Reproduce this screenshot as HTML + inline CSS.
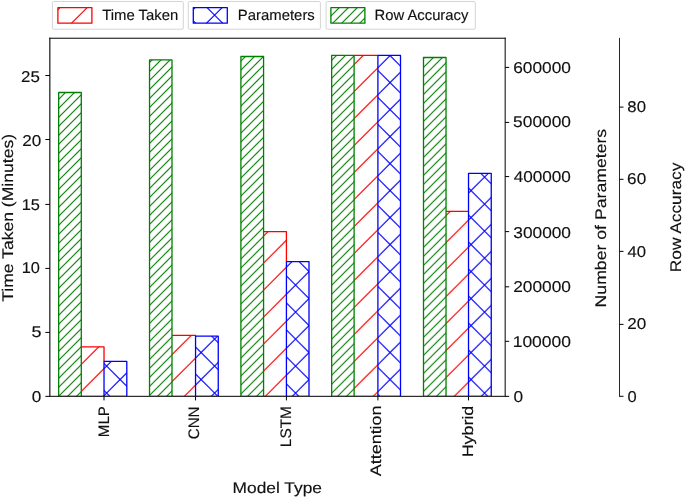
<!DOCTYPE html>
<html><head><meta charset="utf-8"><style>
html,body{margin:0;padding:0;background:#fff;}
svg{display:block;will-change:transform;}
text{font-family:"Liberation Sans",sans-serif;fill:#111;text-rendering:geometricPrecision;stroke:#111;stroke-width:0.15px;}
</style></head><body>
<svg width="685" height="498" viewBox="0 0 685 498">
<defs>
<pattern id="hr" patternUnits="userSpaceOnUse" x="0" y="0" width="26.994" height="26.994">
 <path d="M-2 -11.294 L-11.294 -2 M-2 15.7 L15.7 -2 M-2 42.694 L42.694 -2 M-2 69.688 L69.688 -2 " stroke="#ff0000" stroke-width="1.15" fill="none"/>
</pattern>
<pattern id="hg" patternUnits="userSpaceOnUse" x="0" y="0" width="8.998" height="8.998">
 <path d="M-2 -1.998 L-1.998 -2 M-2 7 L7 -2 M-2 15.998 L15.998 -2 M-2 24.996 L24.996 -2 " stroke="#008000" stroke-width="1.15" fill="none"/>
</pattern>
<pattern id="hb" patternUnits="userSpaceOnUse" x="0" y="0" width="26.994" height="26.994">
 <path d="M-2 -11.294 L-11.294 -2 M-2 15.7 L15.7 -2 M-2 42.694 L42.694 -2 M-2 69.688 L69.688 -2 M-18.494 -2 L12.5 28.994 M8.5 -2 L39.494 28.994 M35.494 -2 L66.488 28.994 " stroke="#0000ff" stroke-width="1.15" fill="none"/>
</pattern>
</defs>

<rect x="81.3" y="346.8" width="22.72" height="49.5" fill="url(#hr)"/>
<path d="M81.3 346.8 L104.02 346.8 L104.02 361.4 M81.3 396.3 L104.02 396.3" fill="none" stroke="#ff0000" stroke-width="1.3" stroke-linejoin="round"/>
<rect x="172" y="335.4" width="23.55" height="60.9" fill="url(#hr)"/>
<path d="M172 335.4 L195.55 335.4 L195.55 336.2 M172 396.3 L195.55 396.3" fill="none" stroke="#ff0000" stroke-width="1.3" stroke-linejoin="round"/>
<rect x="263.57" y="231.6" width="22.85" height="164.7" fill="url(#hr)"/>
<path d="M263.57 231.6 L286.42 231.6 L286.42 261.6 M263.57 396.3 L286.42 396.3" fill="none" stroke="#ff0000" stroke-width="1.3" stroke-linejoin="round"/>
<rect x="354.1" y="55.4" width="23.8" height="340.9" fill="url(#hr)"/>
<path d="M354.1 55.4 L377.9 55.4 L377.9 55.4 M354.1 396.3 L377.9 396.3" fill="none" stroke="#ff0000" stroke-width="1.3" stroke-linejoin="round"/>
<rect x="446.04" y="211.4" width="22.48" height="184.9" fill="url(#hr)"/>
<path d="M446.04 211.4 L468.52 211.4 L468.52 211.4 M446.04 396.3 L468.52 396.3" fill="none" stroke="#ff0000" stroke-width="1.3" stroke-linejoin="round"/>
<rect x="104.02" y="361.4" width="22.78" height="34.9" fill="url(#hb)" stroke="#0000ff" stroke-width="1.3" stroke-linejoin="round"/>
<rect x="195.55" y="336.2" width="22.7" height="60.1" fill="url(#hb)" stroke="#0000ff" stroke-width="1.3" stroke-linejoin="round"/>
<rect x="286.42" y="261.6" width="22.58" height="134.7" fill="url(#hb)" stroke="#0000ff" stroke-width="1.3" stroke-linejoin="round"/>
<rect x="377.9" y="55.4" width="22.6" height="340.9" fill="url(#hb)" stroke="#0000ff" stroke-width="1.3" stroke-linejoin="round"/>
<rect x="468.52" y="173.3" width="22.73" height="223" fill="url(#hb)" stroke="#0000ff" stroke-width="1.3" stroke-linejoin="round"/>
<rect x="58.67" y="92.5" width="22.63" height="303.8" fill="url(#hg)" stroke="#008000" stroke-width="1.3" stroke-linejoin="round"/>
<rect x="149.53" y="59.9" width="22.47" height="336.4" fill="url(#hg)" stroke="#008000" stroke-width="1.3" stroke-linejoin="round"/>
<rect x="240.9" y="56.5" width="22.67" height="339.8" fill="url(#hg)" stroke="#008000" stroke-width="1.3" stroke-linejoin="round"/>
<rect x="331.67" y="55.4" width="22.43" height="340.9" fill="url(#hg)" stroke="#008000" stroke-width="1.3" stroke-linejoin="round"/>
<rect x="423.5" y="57.5" width="22.54" height="338.8" fill="url(#hg)" stroke="#008000" stroke-width="1.3" stroke-linejoin="round"/>


<line x1="49.85" y1="37.7" x2="49.85" y2="396.8" stroke="#000" stroke-width="1.1"/>
<line x1="49.3" y1="38.23" x2="505.67" y2="38.23" stroke="#000" stroke-width="1.0"/>
<line x1="505.17" y1="37.73" x2="505.17" y2="396.8" stroke="#000" stroke-width="1.0"/>
<line x1="49.3" y1="396.5" x2="505.67" y2="396.5" stroke="#2e2e2e" stroke-width="1.0"/>
<line x1="49.3" y1="395.5" x2="505.67" y2="395.5" stroke="#000" stroke-opacity="0.18" stroke-width="1.0"/>

<line x1="45.35" y1="396.35" x2="49.9" y2="396.35" stroke="#000" stroke-width="1.0"/>
<line x1="45.35" y1="332.42" x2="49.9" y2="332.42" stroke="#000" stroke-width="1.0"/>
<line x1="45.35" y1="268.42" x2="49.9" y2="268.42" stroke="#000" stroke-width="1.0"/>
<line x1="45.35" y1="204.42" x2="49.9" y2="204.42" stroke="#000" stroke-width="1.0"/>
<line x1="45.35" y1="139.52" x2="49.9" y2="139.52" stroke="#000" stroke-width="1.0"/>
<line x1="45.35" y1="75.52" x2="49.9" y2="75.52" stroke="#000" stroke-width="1.0"/>
<line x1="505.1" y1="396.35" x2="509.2" y2="396.35" stroke="#000" stroke-width="1.0"/>
<line x1="505.1" y1="341.32" x2="509.2" y2="341.32" stroke="#000" stroke-width="1.0"/>
<line x1="505.1" y1="286.82" x2="509.2" y2="286.82" stroke="#000" stroke-width="1.0"/>
<line x1="505.1" y1="231.62" x2="509.2" y2="231.62" stroke="#000" stroke-width="1.0"/>
<line x1="505.1" y1="176.58" x2="509.2" y2="176.58" stroke="#000" stroke-width="1.0"/>
<line x1="505.1" y1="122.42" x2="509.2" y2="122.42" stroke="#000" stroke-width="1.0"/>
<line x1="505.1" y1="67.42" x2="509.2" y2="67.42" stroke="#000" stroke-width="1.0"/>
<line x1="619.5" y1="37.9" x2="619.5" y2="396.75" stroke="#000" stroke-width="0.85"/>
<line x1="619.5" y1="396.3" x2="623.5" y2="396.3" stroke="#000" stroke-width="1.0"/>
<line x1="619.5" y1="324.38" x2="623.5" y2="324.38" stroke="#000" stroke-width="1.0"/>
<line x1="619.5" y1="251.38" x2="623.5" y2="251.38" stroke="#000" stroke-width="1.0"/>
<line x1="619.5" y1="179.32" x2="623.5" y2="179.32" stroke="#000" stroke-width="1.0"/>
<line x1="619.5" y1="107.12" x2="623.5" y2="107.12" stroke="#000" stroke-width="1.0"/>
<line x1="104.02" y1="396.3" x2="104.02" y2="400.4" stroke="#000" stroke-width="1.0"/>
<line x1="195.55" y1="396.3" x2="195.55" y2="400.4" stroke="#000" stroke-width="1.0"/>
<line x1="286.42" y1="396.3" x2="286.42" y2="400.4" stroke="#000" stroke-width="1.0"/>
<line x1="377.9" y1="396.3" x2="377.9" y2="400.4" stroke="#000" stroke-width="1.0"/>
<line x1="468.52" y1="396.3" x2="468.52" y2="400.4" stroke="#000" stroke-width="1.0"/>
<rect x="52.35" y="1.5" width="130.95" height="27.7" rx="1.2" fill="#fff" stroke="#d4d4d4" stroke-width="1.0"/>
<rect x="57.9" y="7.55" width="34" height="15.6" fill="url(#hr)" stroke="#ff0000" stroke-width="1.3" stroke-linejoin="round"/>
<rect x="188.3" y="1.5" width="132.1" height="27.7" rx="1.2" fill="#fff" stroke="#d4d4d4" stroke-width="1.0"/>
<rect x="193.3" y="7.55" width="34" height="15.6" fill="url(#hb)" stroke="#0000ff" stroke-width="1.3" stroke-linejoin="round"/>
<rect x="326.1" y="1.5" width="149.2" height="27.7" rx="1.2" fill="#fff" stroke="#d4d4d4" stroke-width="1.0"/>
<rect x="330.9" y="7.55" width="34" height="15.6" fill="url(#hg)" stroke="#008000" stroke-width="1.3" stroke-linejoin="round"/>

<text id="t0" x="102.218" y="19.6" font-size="14.8" textLength="76.047" lengthAdjust="spacingAndGlyphs">Time Taken</text>
<text id="t1" x="237.843" y="19.6" font-size="14.8" textLength="76.981" lengthAdjust="spacingAndGlyphs">Parameters</text>
<text id="t2" x="374.507" y="19.6" font-size="14.8" textLength="93.854" lengthAdjust="spacingAndGlyphs">Row Accuracy</text>
<text id="t3" x="232.634" y="492.7" font-size="15.4" textLength="89.348" lengthAdjust="spacingAndGlyphs">Model Type</text>
<text id="t4" x="31.865" y="402.038" font-size="15.6" textLength="9.565" lengthAdjust="spacingAndGlyphs">0</text>
<text id="t5" x="31.396" y="337.434" font-size="15.6" textLength="10.04" lengthAdjust="spacingAndGlyphs">5</text>
<text id="t6" x="21.734" y="272.794" font-size="15.6" textLength="18.196" lengthAdjust="spacingAndGlyphs">10</text>
<text id="t7" x="21.731" y="209.58" font-size="15.6" textLength="18.235" lengthAdjust="spacingAndGlyphs">15</text>
<text id="t8" x="22.225" y="145.675" font-size="15.6" textLength="18.983" lengthAdjust="spacingAndGlyphs">20</text>
<text id="t9" x="21.098" y="81.708" font-size="15.6" textLength="18.815" lengthAdjust="spacingAndGlyphs">25</text>
<text id="t10" x="513.449" y="401.922" font-size="15.6" textLength="9.61" lengthAdjust="spacingAndGlyphs">0</text>
<text id="t11" x="512.703" y="347.018" font-size="15.6" textLength="58.319" lengthAdjust="spacingAndGlyphs">100000</text>
<text id="t12" x="513.272" y="292.129" font-size="15.6" textLength="57.668" lengthAdjust="spacingAndGlyphs">200000</text>
<text id="t13" x="513.317" y="237.612" font-size="15.6" textLength="57.68" lengthAdjust="spacingAndGlyphs">300000</text>
<text id="t14" x="513.643" y="181.916" font-size="15.6" textLength="57.292" lengthAdjust="spacingAndGlyphs">400000</text>
<text id="t15" x="513.114" y="127.41" font-size="15.6" textLength="57.814" lengthAdjust="spacingAndGlyphs">500000</text>
<text id="t16" x="513.209" y="72.889" font-size="15.6" textLength="57.664" lengthAdjust="spacingAndGlyphs">600000</text>
<text id="t17" x="627.516" y="401.948" font-size="15.6" textLength="9.182" lengthAdjust="spacingAndGlyphs">0</text>
<text id="t18" x="627.225" y="329.225" font-size="15.6" textLength="18.983" lengthAdjust="spacingAndGlyphs">20</text>
<text id="t19" x="627.525" y="256.803" font-size="15.6" textLength="18.574" lengthAdjust="spacingAndGlyphs">40</text>
<text id="t20" x="627.129" y="184.167" font-size="15.6" textLength="19.072" lengthAdjust="spacingAndGlyphs">60</text>
<text id="t21" x="627.34" y="111.985" font-size="15.6" textLength="18.624" lengthAdjust="spacingAndGlyphs">80</text>
<text id="t22" transform="translate(108.5,437.153) rotate(-90)" font-size="15.2" textLength="31.078" lengthAdjust="spacingAndGlyphs">MLP</text>
<text id="t23" transform="translate(199.1,439.235) rotate(-90)" font-size="15.2" textLength="32.713" lengthAdjust="spacingAndGlyphs">CNN</text>
<text id="t24" transform="translate(290.9,447.165) rotate(-90)" font-size="15.2" textLength="41.023" lengthAdjust="spacingAndGlyphs">LSTM</text>
<text id="t25" transform="translate(381.4,476.222) rotate(-90)" font-size="15.2" textLength="70.767" lengthAdjust="spacingAndGlyphs">Attention</text>
<text id="t26" transform="translate(472.8,457.33) rotate(-90)" font-size="15.2" textLength="51.645" lengthAdjust="spacingAndGlyphs">Hybrid</text>
<text id="t27" transform="translate(12.9,301.804) rotate(-90)" font-size="15.4" textLength="167.836" lengthAdjust="spacingAndGlyphs">Time Taken (Minutes)</text>
<text id="t28" transform="translate(605.8,307.448) rotate(-90)" font-size="15.4" textLength="178.629" lengthAdjust="spacingAndGlyphs">Number of Parameters</text>
<text id="t29" transform="translate(680.5,272.219) rotate(-90)" font-size="15.4" textLength="109.524" lengthAdjust="spacingAndGlyphs">Row Accuracy</text>
</svg>
</body></html>
